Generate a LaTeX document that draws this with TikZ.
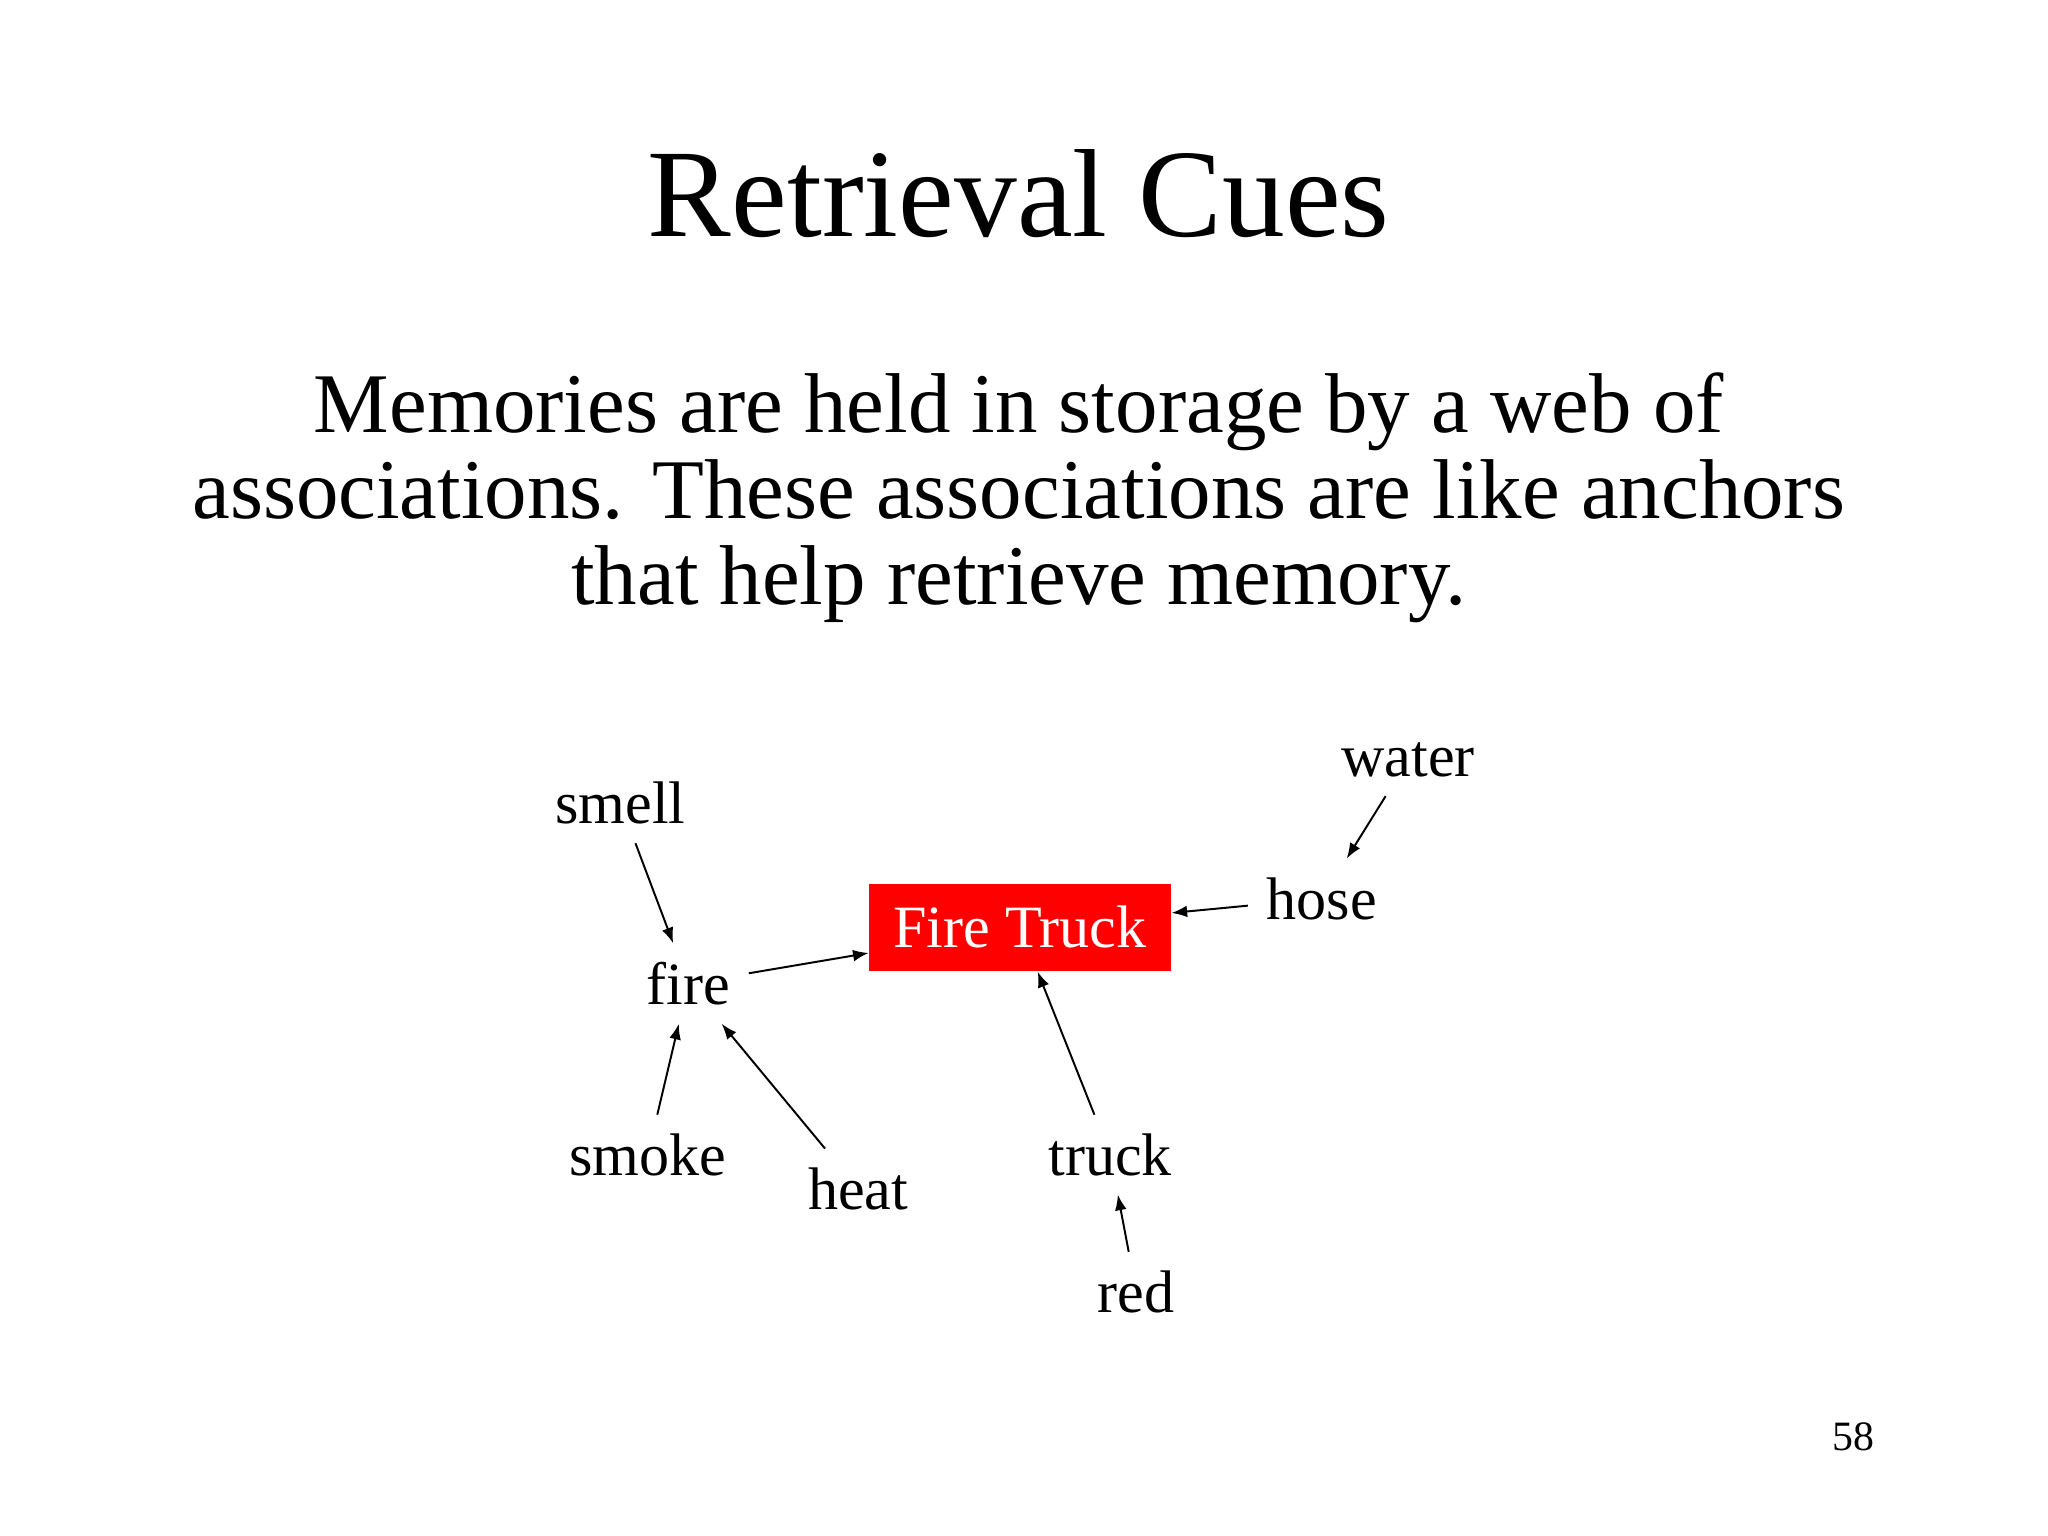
\documentclass[tikz,border=0pt]{standalone}
\usepackage{fontspec}
\setmainfont{Liberation Serif}
\usetikzlibrary{arrows.meta}
\begin{document}
\begin{tikzpicture}[x=0.5pt,y=-0.5pt,
  lbl/.style={font=\fontsize{23}{26}\selectfont,inner sep=7pt},
  arr/.style={-{Latex[length=6pt,width=4.5pt]},line width=0.75pt}]
\useasboundingbox (0,0) rectangle (1568,1176);
\node (title) at (780,148) {\fontsize{48}{56}\selectfont Retrieval Cues};
\node[align=center,font=\fontsize{32.5}{33}\selectfont] (body) at (780,381)
 {Memories are held in storage by a web of\\associations. These associations are like anchors\\that help retrieve memory.};
\node[lbl] (smell) at (475,615) {smell};
\node[lbl] (water) at (1078,582) {water};
\node[lbl] (hose) at (1012,688) {hose};
\node[fill=red,text=white,minimum width=115.5pt,minimum height=33.5pt,inner sep=0pt,font=\fontsize{23}{26}\selectfont] (ft) at (781,710) {Fire Truck};
\node[lbl] (fire) at (527,753) {fire};
\node[lbl] (smoke) at (496,884) {smoke};
\node[lbl] (heat) at (657,910) {heat};
\node[lbl] (truck) at (850,884) {truck};
\node[lbl] (red) at (870,989) {red};
\node (pg) at (1419,1100) {\fontsize{16}{18}\selectfont 58};
\draw[arr] (smell) -- (fire);
\draw[arr] (water) -- (hose);
\draw[arr] (hose) -- (ft);
\draw[arr] (fire) -- (ft);
\draw[arr] (smoke) -- (fire);
\draw[arr] (heat) -- (fire);
\draw[arr] (truck) -- (ft);
\draw[arr] (red) -- (truck);
\end{tikzpicture}
\end{document}
